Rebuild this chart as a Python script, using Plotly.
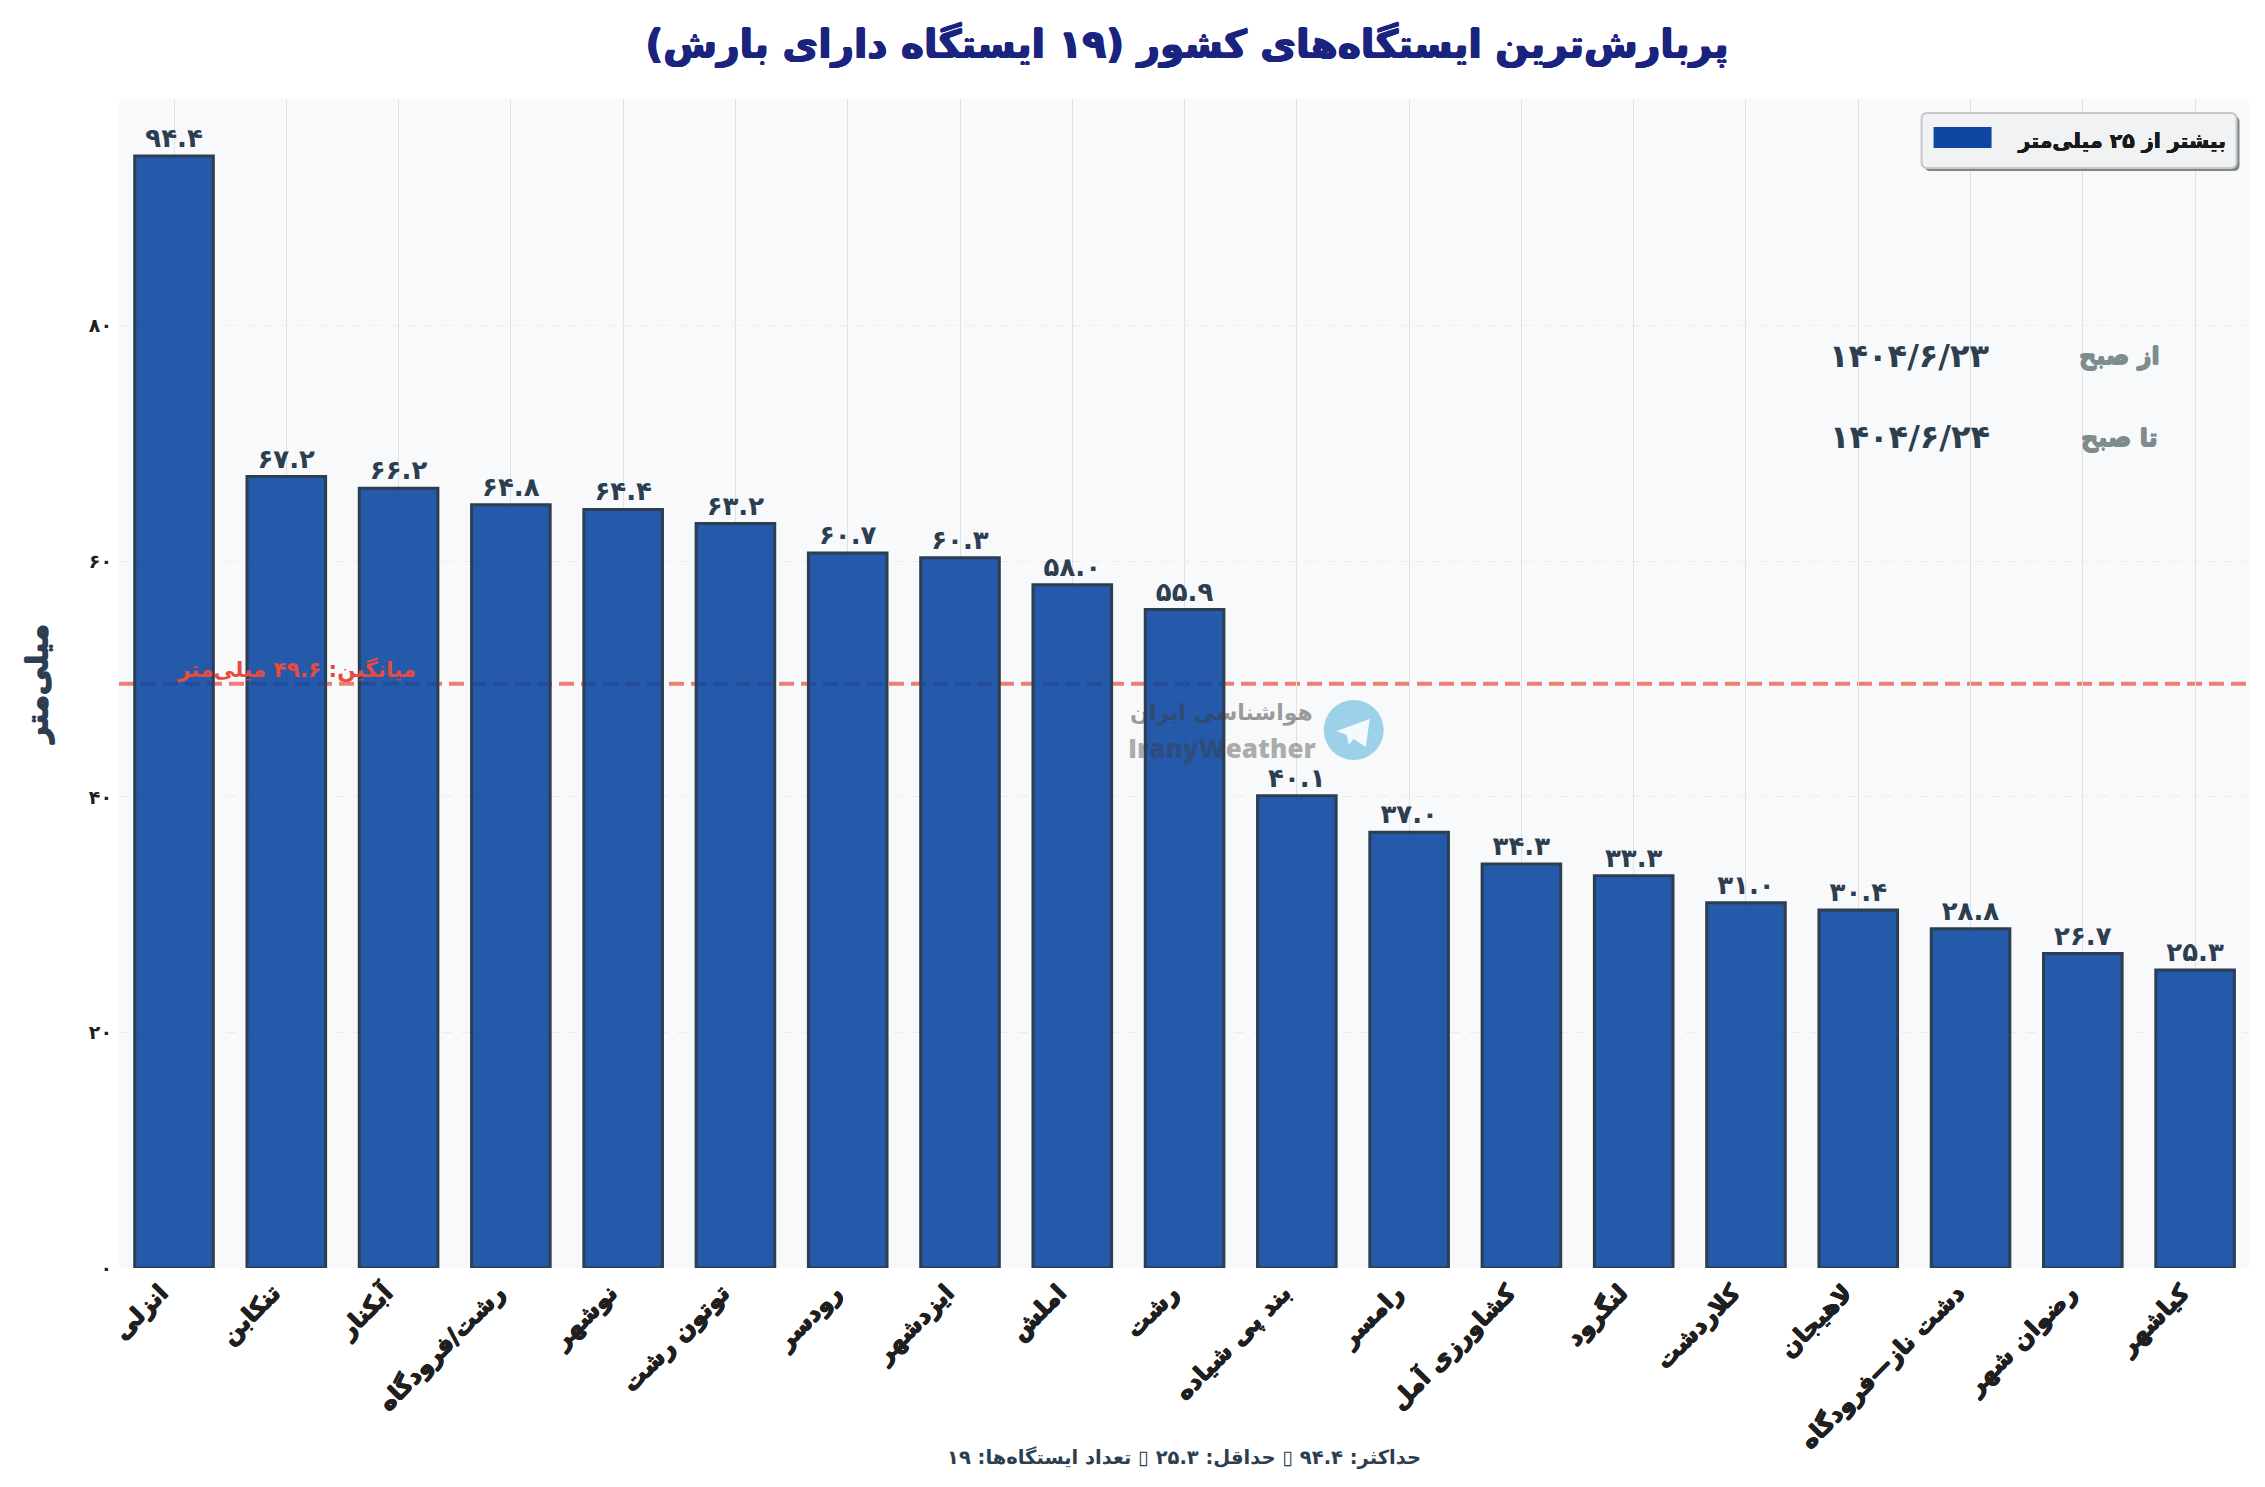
import plotly.graph_objects as go

STATIONS = ["انزلی", "تنکابن", "آبکنار", "رشت/فرودگاه", "نوشهر", "توتون رشت", "رودسر", "ایزدشهر", "املش", "رشت",
            "بند پی شیاده", "رامسر", "کشاورزی آمل", "لنگرود", "کلاردشت", "لاهیجان", "دشت ناز—فرودگاه", "رضوان شهر", "کیاشهر"]
RAINFALL = [94.4, 67.2, 66.2, 64.8, 64.4, 63.2, 60.7, 60.3, 58.0, 55.9, 40.1, 37.0, 34.3, 33.3, 31.0, 30.4, 28.8, 26.7, 25.3]
MEAN_VALUE = 49.6
Y_TICKS = [0, 20, 40, 60, 80]
TITLE = "پربارش\u200cترین ایستگاه\u200cهای کشور (۱۹ ایستگاه دارای بارش)"
FOOTER = "حداکثر: ۹۴.۴ ▯ حداقل: ۲۵.۳ ▯ تعداد ایستگاه\u200cها: ۱۹"
MEAN_LABEL = "میانگین: ۴۹.۶ میلی\u200cمتر"
LEGEND_LABEL = "بیشتر از ۲۵ میلی\u200cمتر"
Y_TITLE = "میلی\u200cمتر"

W, H = 2265, 1487
L, R, T, B = 119, 2249.5, 99, 1268
FA = "DejaVu Sans"
INK = "#2c3e50"


def fa_digits(s):
    return str(s).translate(str.maketrans("0123456789", "۰۱۲۳۴۵۶۷۸۹"))


def heavy(c, a=0.6):
    return f"{a}px 0 0 {c}, -{a}px 0 0 {c}, 0 {a}px 0 {c}, 0 -{a}px 0 {c}"


def px(x):
    return (x - L) / (R - L)


def py(y):
    return (B - y) / (B - T)


def note(x, y, text, size, color, anchor="center", weight=700, family=FA, shadow="none"):
    return dict(xref="paper", yref="paper", x=px(x), y=py(y), text=text, showarrow=False,
                xanchor=anchor, yanchor="middle",
                font=dict(family=family, size=size, color=color, weight=weight, shadow=shadow))


def rect(x0, y0, x1, y1, **kw):
    return dict(type="rect", xref="paper", yref="paper", x0=px(x0), x1=px(x1), y0=py(y0), y1=py(y1), **kw)


def rounded(x0, y0, x1, y1, r, **kw):
    p = (f"M{px(x0 + r)},{py(y0)} L{px(x1 - r)},{py(y0)} Q{px(x1)},{py(y0)} {px(x1)},{py(y0 + r)} "
         f"L{px(x1)},{py(y1 - r)} Q{px(x1)},{py(y1)} {px(x1 - r)},{py(y1)} L{px(x0 + r)},{py(y1)} "
         f"Q{px(x0)},{py(y1)} {px(x0)},{py(y1 - r)} L{px(x0)},{py(y0 + r)} Q{px(x0)},{py(y0)} {px(x0 + r)},{py(y0)} Z")
    return dict(type="path", xref="paper", yref="paper", path=p, **kw)


def poly(points, **kw):
    p = "M" + " L".join(f"{px(a)},{py(b)}" for a, b in points) + " Z"
    return dict(type="path", xref="paper", yref="paper", path=p, **kw)


fig = go.Figure()
fig.add_bar(x=STATIONS, y=RAINFALL, width=0.7, showlegend=False,
            marker=dict(color="rgba(13,71,161,0.9)", line=dict(color=INK, width=3)),
            text=[fa_digits(f"{v:.1f}") for v in RAINFALL], textposition="outside", cliponaxis=False,
            textangle=0, constraintext="none",
            textfont=dict(family=FA, size=26, color=INK, weight=700))
fig.add_bar(x=STATIONS[:1], y=[None], name=LEGEND_LABEL, marker=dict(color="#0d47a1", line=dict(width=0)), showlegend=True)

shapes = [
    dict(type="line", xref="paper", yref="y", x0=0, x1=1, y0=MEAN_VALUE, y1=MEAN_VALUE, layer="below",
         line=dict(color="rgba(231,76,60,0.7)", width=4, dash="15px,7px")),
    rounded(1925, 116, 2240, 171, 6, fillcolor="#808588", line=dict(width=0)),
    rounded(1922, 113, 2237, 168, 6, fillcolor="#f1f2f3", line=dict(color="#c8c8c8", width=2)),
    rect(1934, 127, 1992, 148, fillcolor="#0d47a1", line=dict(width=0)),
    dict(type="circle", xref="paper", yref="paper", x0=px(1324), x1=px(1384), y0=py(760), y1=py(700),
         fillcolor="#9dd1e9", line=dict(width=0)),
    poly([(1337, 731), (1370, 719), (1366, 747), (1354, 739), (1349, 745), (1347, 735)], fillcolor="#f4f9fc", line=dict(width=0)),
]

annotations = [
    note(2162, 356, "از صبح", 24, "#7f8c8d", "right", shadow=heavy("#7f8c8d")),
    note(2160, 438, "تا صبح", 24, "#7f8c8d", "right", shadow=heavy("#7f8c8d")),
    note(1910, 356, "۱۴۰۴/۶/۲۳", 32, INK),
    note(1910, 437, "۱۴۰۴/۶/۲۴", 32, INK),
    note(297, 670, MEAN_LABEL, 21.5, "#e74c3c"),
    note(1222, 713, "هواشناسی ایران", 22, "rgba(60,60,60,0.5)"),
    note(1222, 748, "IranyWeather", 26, "rgba(60,60,60,0.42)", family="Open Sans", weight=800),
    note(1184, 1457, FOOTER, 19.5, INK),
]

fig.update_layout(
    width=W, height=H, autosize=False, margin=dict(l=L, r=W - R, t=T, b=H - B, pad=0),
    paper_bgcolor="white", plot_bgcolor="#f8f9fa", barmode="overlay", bargap=0.3,
    title=dict(text=TITLE, x=(1187) / W, xanchor="center", y=1 - 44 / H, yanchor="middle",
               font=dict(family=FA, size=39, color="#1a237e", weight=700, shadow=heavy("#1a237e", 0.8))),
    legend=dict(x=px(1934), y=py(120), xanchor="left", yanchor="top", bgcolor="rgba(0,0,0,0)", borderwidth=0,
                itemwidth=75, font=dict(family=FA, size=20.5, color="#1a1a1a", weight=700, shadow=heavy("#1a1a1a", 0.3))),
    xaxis=dict(range=[-0.49, 18.48], type="category", showgrid=True, gridcolor="#dfe1e4", gridwidth=1, tickangle=-45,
               showline=False, zeroline=False, ticks="", ticklabelshift=-13, ticklabelstandoff=5,
               tickfont=dict(family=FA, size=24, color="#1f1f1f", weight=700, shadow=heavy("#1f1f1f", 0.6))),
    yaxis=dict(range=[0, 99.25], tickvals=Y_TICKS, ticktext=[fa_digits(t) for t in Y_TICKS], showgrid=True,
               gridcolor="#ebecee", griddash="dash", gridwidth=1, zeroline=False, showline=False, ticks="",
               ticklabelstandoff=6,
               tickfont=dict(family=FA, size=19, color="#1f1f1f", weight=700),
               title=dict(text=Y_TITLE, standoff=32, font=dict(family=FA, size=29, color=INK, weight=700, shadow=heavy(INK, 0.7)))),
    shapes=shapes, annotations=annotations,
)
fig.write_html("out.html", config=dict(displayModeBar=False),
               post_script="document.body.style.margin='0';document.body.style.overflow='hidden';")
